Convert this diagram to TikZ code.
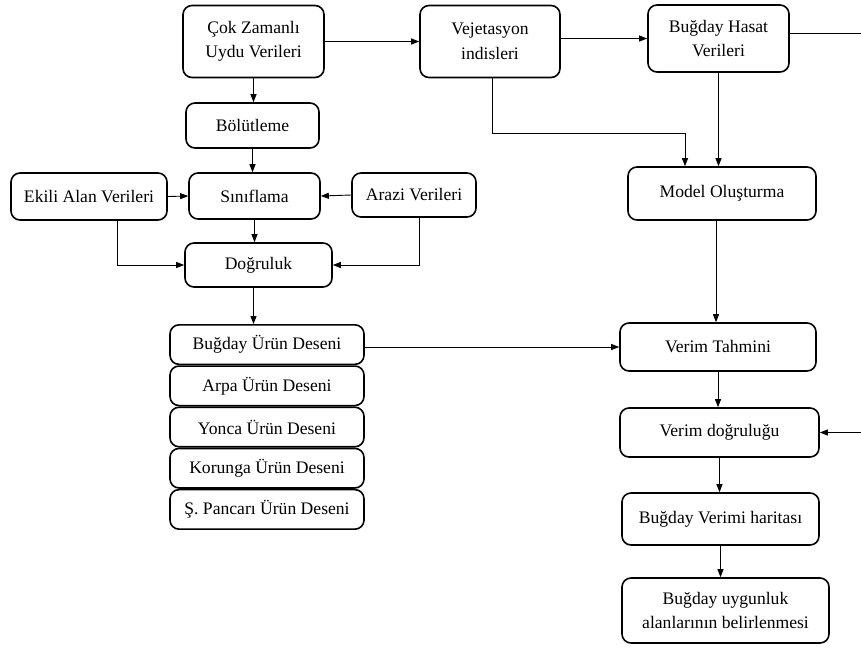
\documentclass[tikz,border=0pt]{standalone}
\usepackage{fontspec}
\setmainfont{Liberation Serif}
\usetikzlibrary{arrows.meta}

\begin{document}
\begin{tikzpicture}[x=1pt, y=-1pt,
  box/.style={draw, line width=1.6pt, rounded corners=9pt, align=center,
    inner sep=1pt, font=\fontsize{17.6}{24.5}\selectfont},
  link/.style={line width=0.9pt, -{Triangle[length=8pt,width=6pt]}}]
\useasboundingbox (0,0) rectangle (861,648);
\clip (0,0) rectangle (861,648);

% top row
\node [box, minimum width=141pt, minimum height=72pt] (uydu)  at (253.5,41.5) {Çok Zamanlı\\Uydu Verileri};
\node [box, minimum width=140pt, minimum height=72pt] (vej)   at (490,41.5)   {Vejetasyon\\indisleri};
\node [box, minimum width=141pt, minimum height=67pt] (hasat) at (718.5,38.5) {Buğday Hasat\\Verileri};

% classification
\node [box, minimum width=133pt, minimum height=45pt] (bolut) at (252.5,125.5) {Bölütleme};
\node [box, minimum width=131pt, minimum height=46pt] (sinif) at (254.5,196)   {Sınıflama};
\node [box, minimum width=156pt, minimum height=47pt] (ekili) at (89,196.5)    {Ekili Alan Verileri};
\node [box, minimum width=124pt, minimum height=44pt] (arazi) at (414,195)     {Arazi Verileri};
\node [box, minimum width=147pt, minimum height=44pt] (dogl)  at (258.5,265)   {Doğruluk};

% crop patterns
\foreach \txt [count=\i] in {Buğday Ürün Deseni, Arpa Ürün Deseni, Yonca Ürün Deseni,
    Korunga Ürün Deseni, Ş. Pancarı Ürün Deseni}
  \node [box, minimum width=194pt, minimum height=39.5pt] (urun\i) at (267,303.4+41.2*\i) {\txt};

% yield
\node [box, minimum width=188pt, minimum height=53pt] (model)  at (722,193.5)   {Model Oluşturma};
\node [box, minimum width=196pt, minimum height=48pt] (tahmin) at (718,347)     {Verim Tahmini};
\node [box, minimum width=199pt, minimum height=49pt] (vdogru) at (719.5,432.5) {Verim doğruluğu};
\node [box, minimum width=197pt, minimum height=52pt] (harita) at (720.5,519)   {Buğday Verimi haritası};
\node [box, minimum width=207pt, minimum height=65pt] (uygun)  at (725.5,610.5) {Buğday uygunluk\\alanlarının belirlenmesi};

\draw [link] (uydu.east) -- (vej.west);
\draw [link] (vej.east |- hasat) -- (hasat.west);
\draw [link] ([yshift=5pt]hasat.east) -- ++(90,0) |- (vdogru.east);
\draw [link] (uydu.south) -- (uydu.south |- bolut.north);
\draw [link] (bolut.south) -- (bolut.south |- sinif.north);
\draw [link] (ekili.east) -- (sinif.west);
\draw [link] (arazi.west) -- (sinif.east);
\draw [link] (sinif.south) -- (sinif.south |- dogl.north);
\draw [link] ([xshift=28pt]ekili.south) |- (dogl.west);
\draw [link] ([xshift=5pt]arazi.south) |- (dogl.east);
\draw [link] ([xshift=-5pt]dogl.south) -- ([xshift=-5pt]dogl.south |- urun1.north);
\draw [link] ([xshift=2pt]vej.south) -- ++(0,55) -| ([xshift=-37pt]model.north);
\draw [link] (hasat.south) -- (hasat.south |- model.north);
\draw [link] ([xshift=-6pt]model.south) -- ([xshift=-6pt]model.south |- tahmin.north);
\draw [link] (urun1.east |- tahmin) -- (tahmin.west);
\draw [link] (tahmin.south) -- (tahmin.south |- vdogru.north);
\draw [link] (vdogru.south) -- (vdogru.south |- harita.north);
\draw [link] (harita.south) -- (harita.south |- uygun.north);
\end{tikzpicture}
\end{document}
